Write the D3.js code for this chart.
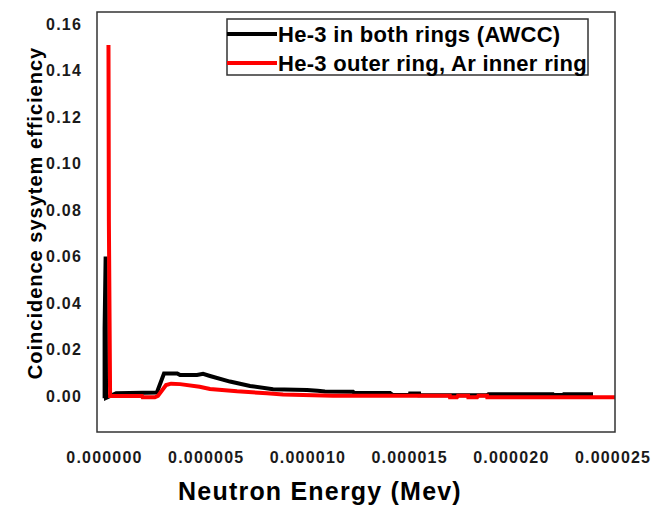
<!DOCTYPE html>
<html>
<head>
<meta charset="utf-8">
<script src="https://cdn.jsdelivr.net/npm/d3@7"></script>
<style>
  body { margin: 0; background: #fff; }
  text { font-family: "Liberation Sans", Arial, sans-serif; font-weight: bold; }
</style>
</head>
<body>
<script>
// energies in MeV, efficiency values
var awccEnergy = [0.03e-6, 0.03e-6, 0.08e-6, 0.10e-6, 0.6e-6, 2.6e-6, 2.95e-6, 3.6e-6, 3.74e-6, 4.57e-6,
    4.87e-6, 5.21e-6, 6.19e-6, 7.18e-6, 8.31e-6, 9.98e-6, 10.5e-6, 10.86e-6, 12.24e-6, 12.3e-6,
    14.06e-6, 14.2e-6, 15.04e-6, 15.05e-6, 15.49e-6, 15.5e-6, 18.83e-6, 18.9e-6, 22.07e-6, 22.1e-6,
    22.56e-6, 22.6e-6, 24.04e-6];
var awccEff = [-0.001, 0.029, 0.060, -0.0008, 0.0012, 0.0015, 0.0097, 0.0097, 0.0090, 0.0090,
    0.0095, 0.0086, 0.0062, 0.0043, 0.0029, 0.0026, 0.0022, 0.0019, 0.0018, 0.0013,
    0.0013, 0.0004, 0.0004, 0.0011, 0.0011, 0.0003, 0.0003, 0.0007, 0.0007, 0.0004,
    0.0004, 0.0007, 0.0007];

var arEnergy = [0.22e-6, 0.24e-6, 0.30e-6, 1.87e-6, 1.9e-6, 2.5e-6, 2.65e-6, 3.05e-6, 3.3e-6, 3.74e-6,
    4.7e-6, 5.21e-6, 6.54e-6, 8.01e-6, 8.8e-6, 11.26e-6, 17.0e-6, 17.01e-6, 17.35e-6, 17.4e-6,
    17.9e-6, 17.91e-6, 18.34e-6, 18.4e-6, 18.83e-6, 18.84e-6, 25.12e-6];
var arEff = [0.151, 0.075, 0.0, 0.0, -0.0006, -0.0006, 0.0, 0.0047, 0.0053, 0.0051,
    0.0040, 0.0030, 0.0020, 0.0012, 0.0006, 0.0001, 0.0001, -0.0006, -0.0006, 0.0001,
    0.0001, -0.0006, -0.0006, 0.0001, 0.0001, -0.0005, -0.0005];

var xTicks = [0, 5e-6, 10e-6, 15e-6, 20e-6, 25e-6];
var yTicks = [0, 0.02, 0.04, 0.06, 0.08, 0.10, 0.12, 0.14, 0.16];
var seriesNames = ['He-3 in both rings (AWCC)', 'He-3 outer ring, Ar inner ring'];
var seriesColors = ['#000000', '#ff0000'];

var svgWidth = 667;
var svgHeight = 507;
var plot = {left: 97, top: 12, right: 615, bottom: 432};

var svg = d3.select('body')
    .append('svg')
    .attr('width', svgWidth)
    .attr('height', svgHeight);

var x = d3.scaleLinear()
    .domain([-0.344e-6, 25.12e-6])
    .range([plot.left, plot.right]);

var y = d3.scaleLinear()
    .domain([-0.0155, 0.1652])
    .range([plot.bottom, plot.top]);

svg.append('clipPath')
    .attr('id', 'clip')
    .append('rect')
    .attr('x', plot.left)
    .attr('y', plot.top)
    .attr('width', plot.right - plot.left)
    .attr('height', plot.bottom - plot.top);

// tick labels only, no tick marks
var xAxis = svg.append('g')
    .attr('transform', 'translate(0,' + plot.bottom + ')')
    .call(d3.axisBottom(x).tickValues(xTicks).tickFormat(d3.format('.6f')).tickSize(0).tickPadding(20));
var yAxis = svg.append('g')
    .attr('transform', 'translate(' + plot.left + ',0)')
    .call(d3.axisLeft(y).tickValues(yTicks).tickFormat(d3.format('.2f')).tickSize(0).tickPadding(15));

[xAxis, yAxis].forEach(function (a) {
    a.select('.domain').remove();
    a.selectAll('text')
        .attr('fill', '#1a1a1a')
        .style('font-size', '16px')
        .style('letter-spacing', '1.2px');
});

var line = d3.line()
    .x(function (d) { return x(d[0]); })
    .y(function (d) { return y(d[1]); });

var lines = [d3.zip(awccEnergy, awccEff), d3.zip(arEnergy, arEff)];

svg.append('g')
    .attr('clip-path', 'url(#clip)')
    .selectAll('path')
    .data(lines)
    .enter()
    .append('path')
        .attr('d', line)
        .attr('fill', 'none')
        .attr('stroke', function (d, i) { return seriesColors[i]; })
        .attr('stroke-width', 4)
        .attr('stroke-miterlimit', 2);

svg.append('rect')
    .attr('x', plot.left)
    .attr('y', plot.top)
    .attr('width', plot.right - plot.left)
    .attr('height', plot.bottom - plot.top)
    .attr('fill', 'none')
    .attr('stroke', '#333')
    .attr('stroke-width', 1.5);

// legend
var legend = svg.append('g');
legend.append('rect')
    .attr('x', 227)
    .attr('y', 19)
    .attr('width', 361)
    .attr('height', 56)
    .attr('fill', '#fff')
    .attr('stroke', '#333')
    .attr('stroke-width', 1.5);

var items = legend.selectAll('g.item')
    .data(seriesNames)
    .enter()
    .append('g')
        .attr('transform', function (d, i) { return 'translate(227,' + (34 + i * 29) + ')'; });

items.append('line')
    .attr('x1', 0)
    .attr('x2', 50)
    .attr('stroke', function (d, i) { return seriesColors[i]; })
    .attr('stroke-width', 4);

items.append('text')
    .attr('x', 51)
    .attr('y', 8)
    .style('font-size', '22px')
    .style('letter-spacing', '0.3px')
    .text(function (d) { return d; });

svg.append('text')
    .attr('x', 320)
    .attr('y', 500)
    .attr('text-anchor', 'middle')
    .style('font-size', '25px')
    .style('letter-spacing', '1.2px')
    .text('Neutron Energy (Mev)');

svg.append('text')
    .attr('transform', 'translate(42,213) rotate(-90)')
    .attr('text-anchor', 'middle')
    .style('font-size', '20px')
    .style('letter-spacing', '1px')
    .text('Coincidence sysytem efficiency');
</script>
</body>
</html>
